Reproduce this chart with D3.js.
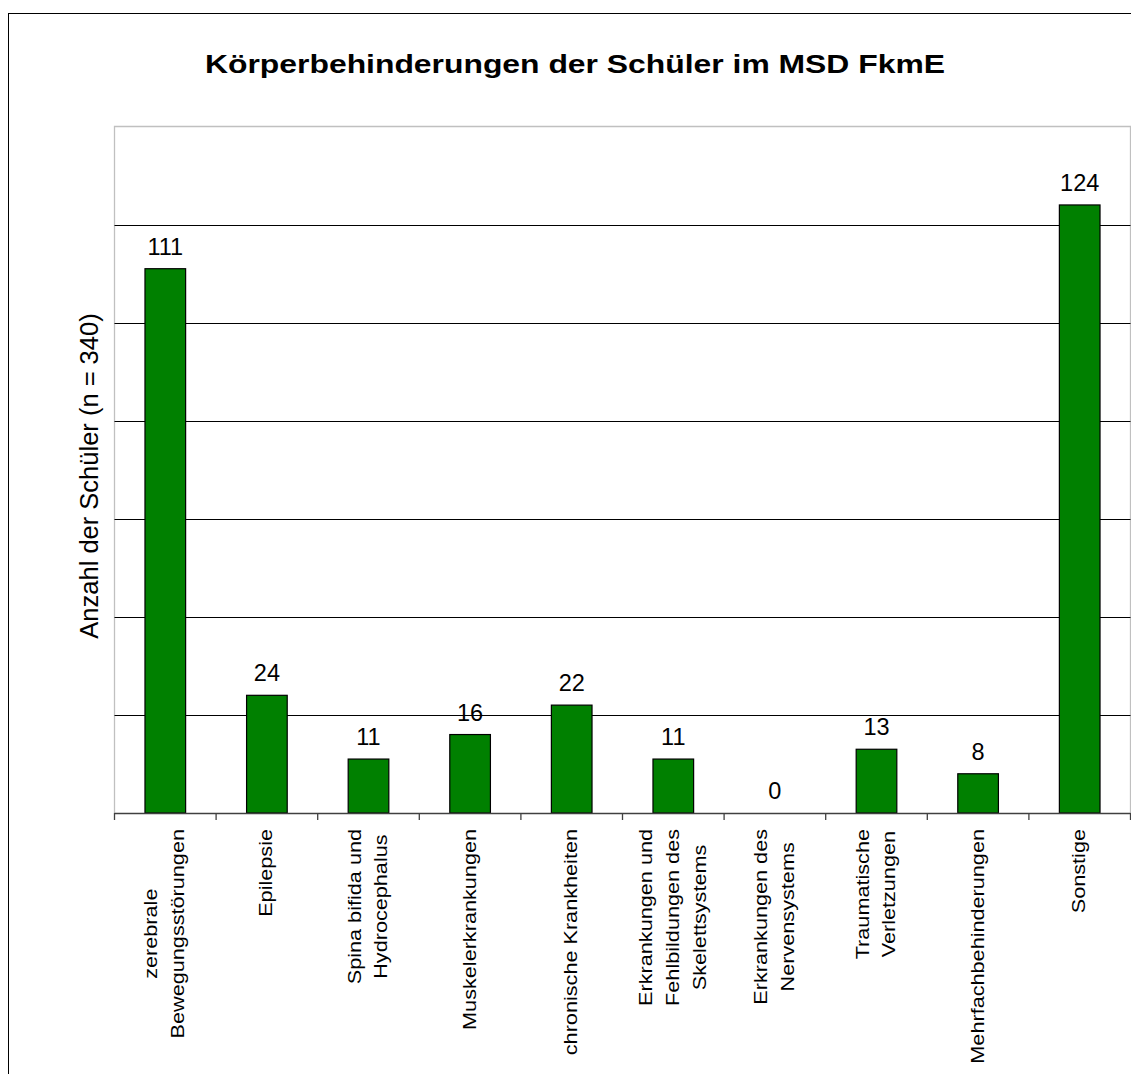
<!DOCTYPE html>
<html>
<head>
<meta charset="utf-8">
<script src="https://cdn.jsdelivr.net/npm/d3@7"></script>
<style>
  body { margin: 0; background: #fff; }
  text { font-family: "Liberation Sans", Arial, sans-serif; fill: #000; }
</style>
</head>
<body>
<svg id="chart" width="1131" height="1074"></svg>
<script>
// data
const categories = [
    "zerebrale\nBewegungsstörungen",
    "Epilepsie",
    "Spina bifida und\nHydrocephalus",
    "Muskelerkrankungen",
    "chronische Krankheiten",
    "Erkrankungen und\nFehlbildungen des\nSkelettsystems",
    "Erkrankungen des\nNervensystems",
    "Traumatische\nVerletzungen",
    "Mehrfachbehinderungen",
    "Sonstige"
];
const values = [111, 24, 11, 16, 22, 11, 0, 13, 8, 124];
const gridTicks = [20, 40, 60, 80, 100, 120];
const titleText = "Körperbehinderungen der Schüler im MSD FkmE";
const yTitle = "Anzahl der Schüler (n = 340)";

const svg = d3.select("#chart");

// outer chart border
svg.append("rect")
    .attr("x", 8.5).attr("y", 13.5)
    .attr("width", 1132).attr("height", 1072)
    .attr("fill", "none").attr("stroke", "#000").attr("stroke-width", 1);

const plot = { left: 114.5, right: 1130.5, top: 126.5, bottom: 813 };

const x = d3.scaleBand()
    .domain(categories)
    .range([plot.left, plot.right])
    .paddingInner(0.6)
    .paddingOuter(0.3);

const y = d3.scaleLinear()
    .domain([0, 140])
    .range([plot.bottom, plot.top]);

// plot area frame (grey)
svg.append("path")
    .attr("d", `M${plot.left},${plot.bottom}V${plot.top}H${plot.right}V${plot.bottom}`)
    .attr("fill", "none").attr("stroke", "#c0c0c0").attr("stroke-width", 1.3);

// gridlines
svg.append("g")
    .selectAll("line")
    .data(gridTicks)
    .join("line")
    .attr("x1", plot.left).attr("x2", plot.right)
    .attr("y1", d => Math.round(y(d)) + 0.5).attr("y2", d => Math.round(y(d)) + 0.5)
    .attr("stroke", "#000").attr("stroke-width", 1);

// bars
svg.append("g")
    .selectAll("rect")
    .data(values)
    .join("rect")
    .attr("x", (d, i) => x(categories[i]))
    .attr("y", d => y(d))
    .attr("width", x.bandwidth())
    .attr("height", d => y(0) - y(d))
    .attr("fill", "#008000")
    .attr("stroke", "#000")
    .attr("stroke-width", 1.2);

// value labels
svg.append("g")
    .selectAll("text")
    .data(values)
    .join("text")
    .attr("x", (d, i) => x(categories[i]) + x.bandwidth() / 2)
    .attr("y", d => y(d) - 14)
    .attr("text-anchor", "middle")
    .style("font-size", "23.5px")
    .text(d => d);

// x axis line + ticks at category boundaries
const step = x.step();
const bounds = d3.range(categories.length + 1).map(i => plot.left + i * step);
svg.append("line")
    .attr("x1", plot.left).attr("x2", plot.right)
    .attr("y1", plot.bottom + 0.5).attr("y2", plot.bottom + 0.5)
    .attr("stroke", "#404040").attr("stroke-width", 1.3);
svg.append("g")
    .selectAll("line")
    .data(bounds)
    .join("line")
    .attr("x1", d => d).attr("x2", d => d)
    .attr("y1", plot.bottom).attr("y2", plot.bottom + 7)
    .attr("stroke", "#404040").attr("stroke-width", 1.3);

// category labels, rotated, lines centred, block ends just under the axis
const lineH = 27;
categories.forEach(cat => {
    const lines = cat.split("\n");
    const cx = x(cat) + x.bandwidth() / 2;
    const g = svg.append("g")
        .attr("transform", `translate(${cx},829) rotate(-90) scale(1.14,1)`);
    const texts = g.selectAll("text")
        .data(lines)
        .join("text")
        .attr("text-anchor", "middle")
        .attr("y", (d, i) => (i - (lines.length - 1) / 2) * lineH + 5.5)
        .style("font-size", "19px")
        .text(d => d);
    let maxLen = 0;
    texts.each(function() { maxLen = Math.max(maxLen, this.getComputedTextLength()); });
    texts.attr("x", -maxLen / 2);
});

// y axis title
svg.append("text")
    .attr("transform", "translate(98,476) rotate(-90)")
    .attr("text-anchor", "middle")
    .style("font-size", "25.5px")
    .text(yTitle);

// chart title
svg.append("text")
    .attr("x", 575).attr("y", 73)
    .attr("text-anchor", "middle")
    .attr("textLength", 740)
    .attr("lengthAdjust", "spacingAndGlyphs")
    .style("font-size", "25px")
    .style("font-weight", "bold")
    .text(titleText);
</script>
</body>
</html>
